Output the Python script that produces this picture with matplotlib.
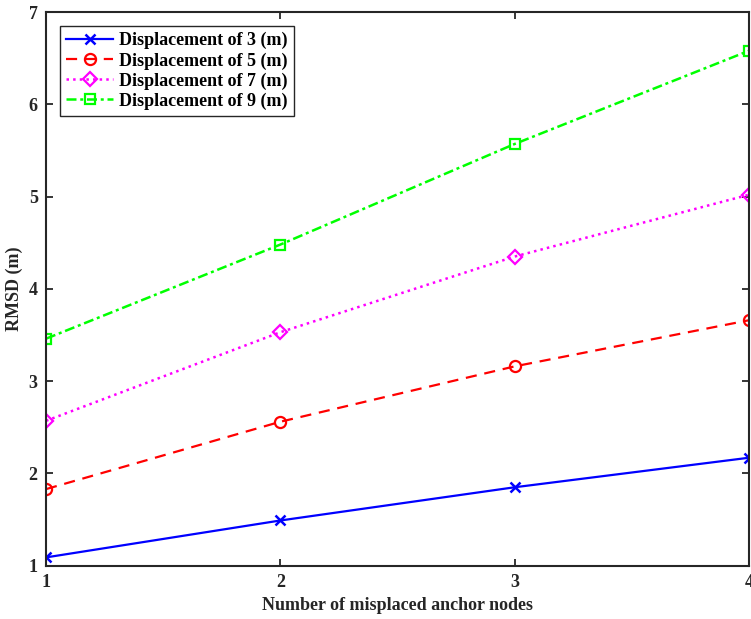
import matplotlib.pyplot as plt

# misplaced anchor nodes vs. RMSD for each displacement level
anchors = [1, 2, 3, 4]
rmsd_d3 = [1.09, 1.49, 1.85, 2.17]
rmsd_d5 = [1.83, 2.56, 3.16, 3.66]
rmsd_d7 = [2.57, 3.53, 4.35, 5.02]
rmsd_d9 = [3.46, 4.48, 5.57, 6.58]
labels = ['Displacement of 3 (m)', 'Displacement of 5 (m)',
          'Displacement of 7 (m)', 'Displacement of 9 (m)']

plt.rcParams['font.family'] = ['Liberation Serif', 'DejaVu Serif']
plt.rcParams['font.weight'] = 'bold'

fig = plt.figure(figsize=(7.51, 6.19), dpi=100)
ax = fig.add_axes([0.0613, 0.0861, 0.936, 0.8945])

ax.plot(anchors, rmsd_d3, '-x', color=(0, 0, 1), lw=1.6, ms=7, mew=1.8, label=labels[0])
ax.plot(anchors, rmsd_d5, '--o', color=(1, 0, 0), lw=1.6, ms=8, mew=1.6,
        mfc='none', dashes=(5, 3.5), label=labels[1])
ax.plot(anchors, rmsd_d7, ':D', color=(1, 0, 1), lw=1.8, ms=7, mew=1.6,
        mfc='none', label=labels[2])
ax.plot(anchors, rmsd_d9, '-.s', color=(0, 1, 0), lw=1.8, ms=7, mew=1.6,
        mfc='none', dashes=(4, 1.5, 1.2, 1.5), label=labels[3])

ax.set_xlim(1, 4)
ax.set_ylim(1, 7)
ax.set_xticks(anchors)
ax.set_yticks(range(1, 8))
ax.tick_params(direction='in', top=True, right=True, length=5, width=1.3,
               labelsize=13, colors='#262626', pad=6)
for s in ax.spines.values():
    s.set_linewidth(1.5)
    s.set_color('#262626')

ax.set_xlabel('Number of misplaced anchor nodes', fontsize=13, fontweight='bold',
              color='#262626', labelpad=4)
ax.set_ylabel('RMSD (m)', fontsize=13, fontweight='bold', color='#262626', labelpad=4)

leg = ax.legend(loc='upper left', bbox_to_anchor=(0.02, 0.975), borderaxespad=0,
                fontsize=13, handlelength=2.6, handletextpad=0.3, borderpad=0.35,
                labelspacing=0.15, fancybox=False, framealpha=1)
leg.get_frame().set_edgecolor('#262626')
leg.get_frame().set_linewidth(1.0)

fig.savefig('out.png', dpi=100)
